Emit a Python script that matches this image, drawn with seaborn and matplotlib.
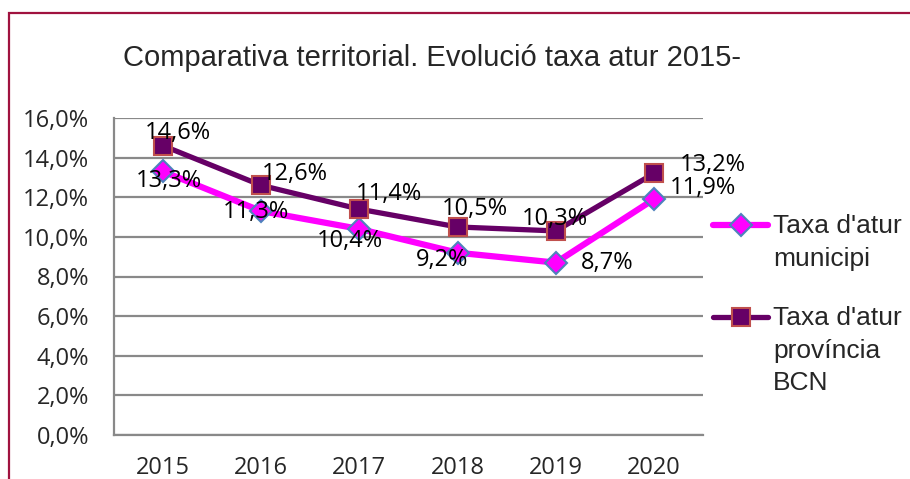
import matplotlib
matplotlib.use("Agg")
import matplotlib.pyplot as plt
import seaborn as sns
import numpy as np
from matplotlib.patches import Rectangle
from matplotlib.lines import Line2D
from matplotlib.ticker import FixedLocator, NullFormatter

# data
years = ["2015", "2016", "2017", "2018", "2019", "2020"]
municipi = [13.3, 11.3, 10.4, 9.2, 8.7, 11.9]
provincia = [14.6, 12.6, 11.4, 10.5, 10.3, 13.2]
yticks = [0, 2, 4, 6, 8, 10, 12, 14, 16]
title = "Comparativa territorial. Evolució taxa atur 2015-"
labels = ["Taxa d'atur\nmunicipi", "Taxa d'atur\nprovíncia\nBCN"]

# label offsets (points) for each data label
off_mun = [(4, -6.5), (-4, -0.7), (-7, -8.6), (-11, -5), (37, 0), (35, 8)]
off_prov = [(11, 9.4), (24.5, 8), (21.6, 10.8), (12.2, 13), (-0.7, 8.6), (42.5, 6)]

sns.set_theme(style="white")
plt.rcParams['font.family'] = ['Liberation Sans', 'DejaVu Sans']

W, H = 910, 479
fig = plt.figure(figsize=(W / 100, H / 100), dpi=100)
fig.patches.append(Rectangle((9 / W, -0.1), 1.2, (H - 13) / H + 0.1,
                             transform=fig.transFigure, fill=False,
                             edgecolor="#A0123F", linewidth=1.6))

ax = fig.add_axes([114 / W, (H - 435) / H, 589 / W, 317 / H])
x = np.arange(len(years))

mun_style = dict(color="#FF00FF", linewidth=4.5, marker="D", markersize=11,
                 markerfacecolor="#FF00FF", markeredgecolor="#4F81BD",
                 markeredgewidth=1.5)
prov_style = dict(color="#660066", linewidth=3.8, marker="s", markersize=13.5,
                  markerfacecolor="#660066", markeredgecolor="#C0504D",
                  markeredgewidth=1.5)

sns.lineplot(x=x, y=municipi, ax=ax, **mun_style)
sns.lineplot(x=x, y=provincia, ax=ax, **prov_style)

num_font = ["Open Sans", "DejaVu Sans"]
lab_font = dict(family=num_font, fontsize=17, color="black",
                ha="center", va="center")
for i in range(len(years)):
    ax.annotate(f"{municipi[i]:.1f}%".replace(".", ","), (x[i], municipi[i]),
                xytext=off_mun[i], textcoords="offset points", **lab_font)
    ax.annotate(f"{provincia[i]:.1f}%".replace(".", ","), (x[i], provincia[i]),
                xytext=off_prov[i], textcoords="offset points", **lab_font)

ax.set_xlim(-0.5, len(years) - 0.5)
ax.set_ylim(0, 16)
ax.set_yticks(yticks)
ax.set_yticklabels([f"{v:.1f}%".replace(".", ",") for v in yticks],
                   fontsize=17, family=num_font)
ax.set_xticks(x)
ax.set_xticklabels(years, fontsize=17, family=num_font)
ax.xaxis.set_minor_locator(FixedLocator(np.arange(-0.5, len(years), 1.0)))
ax.xaxis.set_minor_formatter(NullFormatter())
ax.tick_params(axis="x", which="major", length=0, pad=15)
ax.tick_params(axis="x", which="minor", length=6, width=1.2, color="#868686", direction="out")
ax.tick_params(axis="y", length=6, width=1.2, color="#868686", direction="out", pad=12)
ax.grid(axis="y", color="#898989", linewidth=1.6)
ax.set_axisbelow(True)
for s in ["top", "right"]:
    ax.spines[s].set_visible(False)
for s in ["left", "bottom"]:
    ax.spines[s].set_color("#898989")
    ax.spines[s].set_linewidth(1.6)

fig.text(432 / W, (H - 58) / H, title, fontsize=21, ha="center", va="center")

# legend: handle aligned with first text line
for lab, style, ytop in zip(labels, [mun_style, prov_style], [225, 317]):
    fig.add_artist(Line2D([713 / W, 768 / W], [(H - ytop) / H] * 2,
                          transform=fig.transFigure, **{**style, "marker": None}))
    fig.add_artist(Line2D([740.5 / W], [(H - ytop) / H],
                          transform=fig.transFigure, linestyle="none",
                          **{k: v for k, v in style.items() if k != "linewidth"}))
    fig.text(773 / W, (H - ytop + 11) / H, lab, fontsize=19, ha="left",
             va="top", linespacing=1.45)

fig.savefig("out.png", dpi=100)
